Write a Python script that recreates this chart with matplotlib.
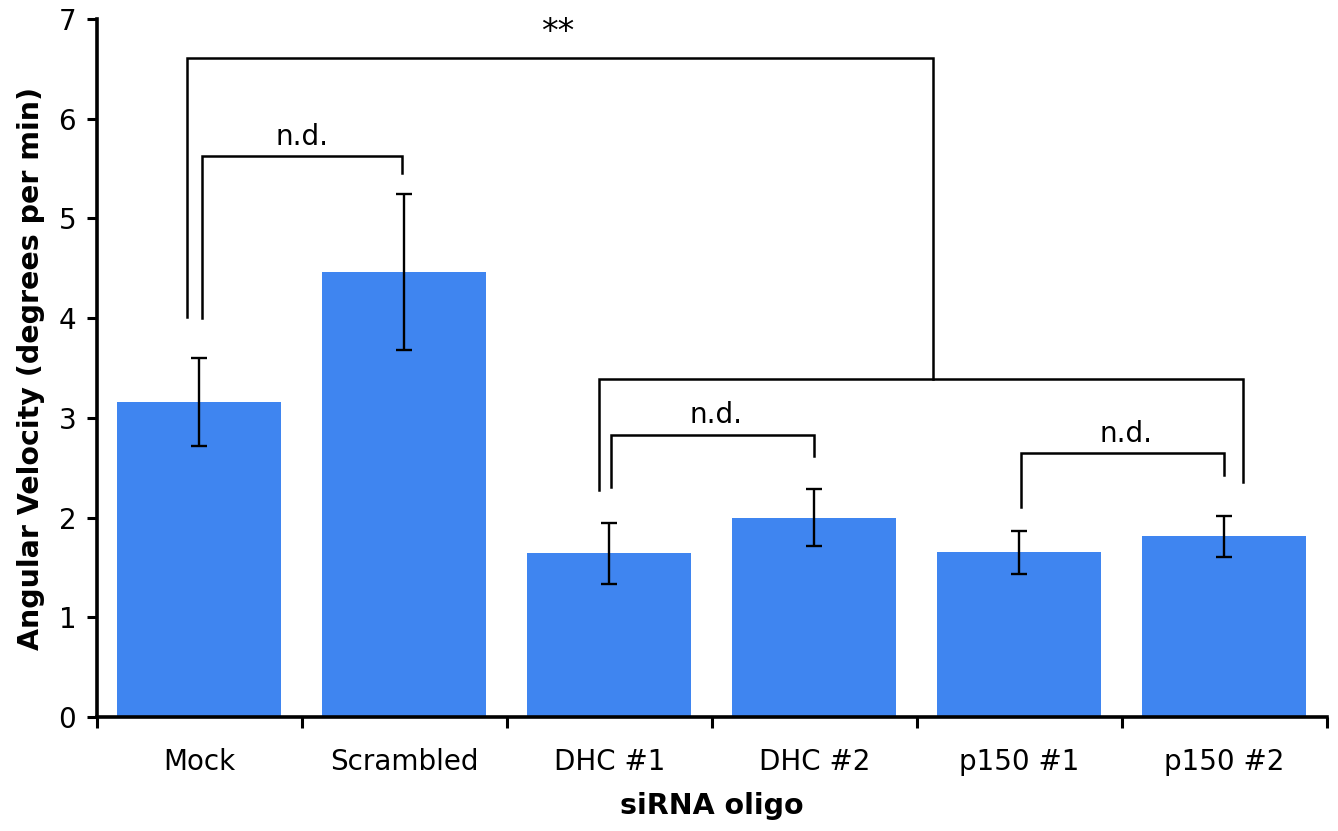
import matplotlib
matplotlib.use("Agg")
import matplotlib.pyplot as plt
import numpy as np

categories = ["Mock", "Scrambled", "DHC #1", "DHC #2", "p150 #1", "p150 #2"]
means = [3.16, 4.46, 1.64, 2.00, 1.65, 1.81]
errors = [0.44, 0.78, 0.31, 0.29, 0.22, 0.21]

# brackets: (x_left, y_left_bottom, x_right, y_right_bottom, y_top, label, label_x, label_y)
brackets = [
    (0.01, 4.00, 0.99, 5.46, 5.63, "n.d.", 0.50, 5.82),
    (2.01, 2.31, 3.00, 2.62, 2.83, "n.d.", 2.52, 3.03),
    (4.01, 2.11, 5.00, 2.43, 2.65, "n.d.", 4.52, 2.84),
    (1.95, 2.28, 5.09, 2.36, 3.39, None, None, None),
    (-0.06, 4.01, 3.58, 3.39, 6.61, "**", 1.75, 6.86),
]

bar_color = "#3f85f0"

def main():
    fig = plt.figure(figsize=(13.38, 8.31), dpi=100)
    ax = fig.add_axes([0.0725, 0.1372, 0.919, 0.84])

    x = np.arange(len(categories))
    ax.bar(x, means, width=0.8, color=bar_color, zorder=1)
    ax.errorbar(x, means, yerr=errors, fmt="none", ecolor="black",
                elinewidth=1.7, capsize=6, capthick=1.7, zorder=3)

    for xl, yl, xr, yr, yt, lab, lx, ly in brackets:
        ax.plot([xl, xl, xr, xr], [yl, yt, yt, yr], color="black", lw=1.8,
                solid_joinstyle="miter", zorder=2)
        if lab:
            fs = 24 if lab == "**" else 20
            ax.text(lx, ly, lab, ha="center", va="center", fontsize=fs)

    ax.set_xlim(-0.5, len(categories) - 0.5)
    ax.set_ylim(0, 7)
    ax.set_yticks(range(0, 8))
    ax.tick_params(axis="y", labelsize=20, width=2.2, length=7, direction="out", pad=8)

    ax.set_xticks(np.arange(-0.5, len(categories)), labels=[""] * (len(categories) + 1))
    ax.set_xticks(x, labels=categories, minor=True)
    ax.tick_params(axis="x", which="major", width=2.2, length=8, direction="out")
    ax.tick_params(axis="x", which="minor", length=0, labelsize=20, pad=22)

    for s in ["top", "right"]:
        ax.spines[s].set_visible(False)
    for s in ["left", "bottom"]:
        ax.spines[s].set_linewidth(2.6)

    ax.set_xlabel("siRNA oligo", fontsize=20.5, fontweight="bold", labelpad=12)
    ax.set_ylabel("Angular Velocity (degrees per min)", fontsize=20.5, fontweight="bold", labelpad=10)

    fig.savefig("out.png", dpi=100)


if __name__ == "__main__":
    main()
